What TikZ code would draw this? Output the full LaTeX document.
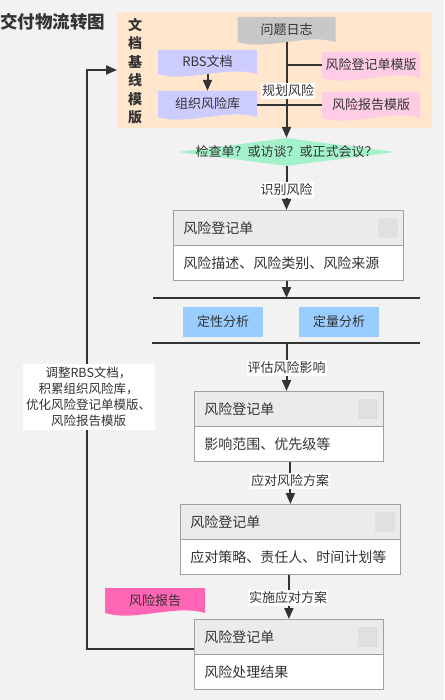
\documentclass[tikz,border=0pt]{standalone}
\usepackage{fontspec}
\setmainfont{Noto Sans CJK SC}
\usetikzlibrary{arrows.meta,shapes.geometric,calc}
\definecolor{bg}{HTML}{F2F2F2}
\definecolor{peach}{HTML}{FFE6CC}
\definecolor{docgray}{HTML}{C8C8C8}
\definecolor{lav}{HTML}{CCCCFF}
\definecolor{pinkl}{HTML}{FFCCE6}
\definecolor{pinkh}{HTML}{FF66B3}
\definecolor{mint}{HTML}{A3F2CC}
\definecolor{skyb}{HTML}{99CCFF}
\definecolor{ink}{HTML}{333333}
\definecolor{hdrc}{HTML}{EBEBEB}
\definecolor{sqc}{HTML}{E0E0E0}
\definecolor{bord}{HTML}{A0A0A0}
\tikzset{
  doctxt/.style={inner sep=0pt, text=ink},
  arr/.style={draw=ink, line width=2pt, -{Triangle[width=9pt,length=11pt]}},
  plainline/.style={draw=ink, line width=2pt},
  barline/.style={draw=ink, line width=2.5pt},
  elab/.style={fill=white, inner xsep=1pt, inner ysep=1.5pt, font=\fontsize{13}{15}\selectfont, text=ink},
  hdr/.style={draw=bord, fill=hdrc, line width=0.8pt, minimum height=35pt, inner xsep=10pt, inner ysep=0pt, anchor=north west, align=left, font=\fontsize{14}{16}\selectfont, text=ink},
  bdy/.style={draw=bord, fill=white, line width=0.8pt, minimum height=35pt, inner xsep=10pt, inner ysep=0pt, anchor=north west, align=left, font=\fontsize{14}{16}\selectfont, text=ink},
  sqbox/.style={fill=sqc, minimum size=20pt, inner sep=0pt, anchor=east},
  anabox/.style={fill=skyb, minimum width=80pt, minimum height=30pt, inner sep=0pt, font=\fontsize{13}{15}\selectfont, text=ink},
}
\newcommand\docnode[8]{%
  \fill[#6] (#2,#3) -- ++(#4,0) -- ++(0,#5) .. controls +(-0.3*#4,-9) and +(0.3*#4,9) .. ++(-#4,0) -- cycle;
  \node[doctxt, minimum width=#4pt, minimum height=#5pt, font=\fontsize{#7}{#7}\selectfont] (#1) at (#2+#4/2,#3+#5/2) {#8};
}
\begin{document}
\begin{tikzpicture}[x=1pt,y=-1pt]
\fill[bg] (0,0) rectangle (444,700);
\useasboundingbox (0,0) rectangle (444,700);

% title
\node[font=\bfseries\fontsize{17.5}{20}\selectfont, anchor=west, text=ink, inner sep=0pt] (title) at (0,22) {交付物流转图};

% baseline templates area
\node[fill=peach, minimum width=315pt, minimum height=116pt, anchor=north west, inner sep=0pt] (base) at (117,12) {};
\node[font=\bfseries\fontsize{14}{18.5}\selectfont, align=center, text=ink, inner sep=0pt] (vt) at (135,71) {文\\档\\基\\线\\模\\版};

\docnode{log}{237.5}{17}{98}{25}{docgray}{13}{问题日志}
\docnode{rbs}{158}{50}{99}{24}{lav}{13}{RBS文档}
\docnode{lib}{158}{91}{99}{26}{lav}{13}{组织风险库}
\docnode{tmp1}{322}{52}{98}{26}{pinkl}{13}{风险登记单模版}
\docnode{tmp2}{322}{92}{98}{26}{pinkl}{13}{风险报告模版}

% diamond
\node[diamond, fill=mint, minimum width=217pt, minimum height=28pt, inner sep=0pt] (dia) at (286.5,152) {};
\node[font=\fontsize{13}{15}\selectfont, text=ink, inner sep=0pt] (diatxt) at (dia.center) {检查单？或访谈？或正式会议？};

% connectors in the top area
\draw[arr] (rbs.south) -- (lib.north);
\draw[plainline] (tmp1.west -| log.south) -- (tmp1.west);
\draw[plainline] (lib.east |- tmp2.west) -- (tmp2.west);
\draw[arr] (log.south) -- (dia.north);
\node[elab] (plan) at (288,91) {规划风险};

% register 1
\node[hdr, text width=210pt] (r1h) at (173,210) {风险登记单};
\node[sqbox] (s1) at ([xshift=-6pt]r1h.east) {};
\node[bdy, text width=210pt] (r1b) at (173,245) {风险描述、风险类别、风险来源};
\draw[arr] (dia.south) -- (dia.south |- r1h.north);
\node[elab] (l1) at (286.5,190) {识别风险};

% analysis bars
\coordinate (b1l) at (153,298);
\coordinate (b1r) at (420,298);
\coordinate (b2l) at (152,343);
\coordinate (b2r) at (420,343);
\draw[arr] (dia.south |- r1b.south) -- (dia.south |- b1l);
\draw[barline] (b1l) -- (b1r);
\draw[barline] (b2l) -- (b2r);
\node[anabox] (qa) at (223,322) {定性分析};
\node[anabox] (qb) at (339,322) {定量分析};

% register 2
\node[hdr, text width=169pt] (r2h) at (194,391) {风险登记单};
\node[sqbox] (s2) at ([xshift=-6pt]r2h.east) {};
\node[bdy, text width=169pt] (r2b) at (194,426) {影响范围、优先级等};
\draw[arr] (dia.south |- b2l) -- (dia.south |- r2h.north);
\node[elab] (l2) at (286.5,368) {评估风险影响};

% register 3
\node[hdr, text width=200pt] (r3h) at (180,504) {风险登记单};
\node[sqbox] (s3) at ([xshift=-6pt]r3h.east) {};
\node[bdy, text width=200pt] (r3b) at (180,539) {应对策略、责任人、时间计划等};
\draw[arr] ([xshift=1.5pt]r2b.south) -- ([xshift=1.5pt]r2b.south |- r3h.north);
\node[elab] (l3) at (290,481) {应对风险方案};

% register 4
\node[hdr, text width=169pt] (r4h) at (194,619) {风险登记单};
\node[sqbox] (s4) at ([xshift=-6pt]r4h.east) {};
\node[bdy, text width=169pt] (r4b) at (194,654) {风险处理结果};
\draw[arr] (r4h.north |- r3b.south) -- (r4h.north);
\node[elab] (l4) at (288,598) {实施应对方案};

\docnode{rep}{105}{588}{100}{25}{pinkh}{13}{风险报告}

% feedback loop
\coordinate (fb1) at (87,649);
\coordinate (fb2) at (87,70);
\draw[arr] (fb1 -| r4h.west) -- (fb1) -- (fb2) -- (fb2 -| base.west);
\node[fill=white, minimum width=132pt, minimum height=66pt, align=center, inner sep=0pt, font=\fontsize{12.5}{16}\selectfont, text=ink] (fblab) at (88.5,397) {调整RBS文档，\\积累组织风险库，\\优化风险登记单模版、\\风险报告模版};
\end{tikzpicture}
\end{document}
